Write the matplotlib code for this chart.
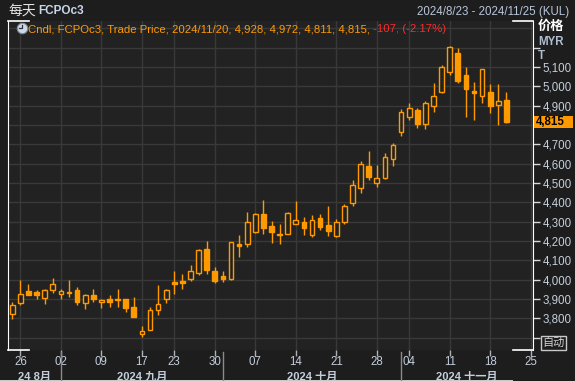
import matplotlib
matplotlib.use('Agg')
import matplotlib.pyplot as plt
from matplotlib.transforms import blended_transform_factory
from matplotlib.patches import Rectangle

plt.rcParams['font.family'] = ['Liberation Sans', 'Noto Sans CJK SC']

# trading days shown (Bursa Malaysia, FCPO 3rd month)
dates = [
    '2024-08-23', '2024-08-26', '2024-08-27', '2024-08-28', '2024-08-29', '2024-08-30',
    '2024-09-02', '2024-09-03', '2024-09-04', '2024-09-05', '2024-09-06',
    '2024-09-09', '2024-09-10', '2024-09-11', '2024-09-12', '2024-09-13',
    '2024-09-17', '2024-09-18', '2024-09-19', '2024-09-20',
    '2024-09-23', '2024-09-24', '2024-09-25', '2024-09-26', '2024-09-27',
    '2024-09-30', '2024-10-01', '2024-10-02', '2024-10-03', '2024-10-04',
    '2024-10-07', '2024-10-08', '2024-10-09', '2024-10-10', '2024-10-11',
    '2024-10-14', '2024-10-15', '2024-10-16', '2024-10-17', '2024-10-18',
    '2024-10-21', '2024-10-22', '2024-10-23', '2024-10-24', '2024-10-25',
    '2024-10-28', '2024-10-29', '2024-10-30', '2024-11-01',
    '2024-11-04', '2024-11-05', '2024-11-06', '2024-11-07', '2024-11-08',
    '2024-11-11', '2024-11-12', '2024-11-13', '2024-11-14', '2024-11-15',
    '2024-11-18', '2024-11-19', '2024-11-20',
]
future_dates = ['2024-11-21', '2024-11-22', '2024-11-25']

opens = [3823, 3880, 3939, 3934, 3904, 3946, 3927, 3935, 3944, 3880,
         3918, 3885, 3901, 3902, 3901, 3861, 3717, 3740, 3844, 3901,
         3986, 3991, 4003, 4036, 4159, 4043, 4019, 4002, 4184, 4186,
         4247, 4338, 4276, 4234, 4238, 4290, 4300, 4233, 4317, 4281,
         4228, 4300, 4398, 4476, 4590, 4502, 4526, 4626, 4766, 4843,
         4879, 4807, 4900, 4971, 5076, 5174, 5057, 4974, 4952, 4969,
         4905, 4928]
highs = [3883, 3996, 3980, 3944, 3954, 4006, 3949, 3996, 3960, 3928,
         3954, 3901, 3918, 3954, 3901, 3908, 3762, 3861, 3970, 3954,
         4043, 4029, 4074, 4157, 4200, 4064, 4043, 4197, 4231, 4348,
         4347, 4410, 4302, 4288, 4350, 4405, 4322, 4333, 4338, 4379,
         4312, 4390, 4514, 4612, 4664, 4591, 4657, 4705, 4881, 4912,
         4890, 4926, 5016, 5110, 5209, 5197, 5098, 5021, 5091, 5010,
         5010, 4972]
lows = [3797, 3868, 3918, 3902, 3873, 3930, 3899, 3910, 3868, 3847,
        3883, 3852, 3856, 3856, 3831, 3806, 3702, 3740, 3816, 3878,
        3925, 3951, 3991, 4026, 4028, 3984, 3990, 4000, 4119, 4169,
        4241, 4234, 4190, 4184, 4236, 4290, 4231, 4221, 4255, 4226,
        4222, 4288, 4379, 4448, 4517, 4479, 4521, 4588, 4743, 4826,
        4784, 4779, 4867, 4966, 5059, 5017, 4841, 4826, 4914, 4862,
        4800, 4811]
closes = [3870, 3928, 3923, 3920, 3944, 3980, 3939, 3933, 3883, 3918,
          3899, 3896, 3883, 3896, 3852, 3809, 3735, 3844, 3875, 3947,
          3977, 3982, 4044, 4153, 4048, 3995, 4005, 4197, 4176, 4300,
          4341, 4267, 4247, 4232, 4347, 4310, 4267, 4310, 4272, 4252,
          4300, 4383, 4488, 4600, 4531, 4528, 4636, 4698, 4869, 4890,
          4807, 4916, 4952, 5102, 5202, 5028, 4986, 4966, 5091, 4900,
          4926, 4815]

tick_days = ['2024-08-26', '2024-09-02', '2024-09-09', '2024-09-17', '2024-09-23',
             '2024-09-30', '2024-10-07', '2024-10-14', '2024-10-21', '2024-10-28',
             '2024-11-04', '2024-11-11', '2024-11-18', '2024-11-25']
month_starts = ['2024-09-02', '2024-10-01', '2024-11-01']
month_names = ['24 8月', '2024 九月', '2024 十月', '2024 十一月']
price_ticks = list(range(3700, 5201, 100))
hidden_ticks = (3700, 4800, 5200)  # covered by button / price tag / title
last_price = 4815

ORANGE = '#ff9900'
RED = '#ff2a2a'
FIG_BG = '#1d1d1d'
AX_BG = '#222222'
GRID = '#393939'
LABEL = '#c4cedb'

W, H = 575, 381
fig = plt.figure(figsize=(W / 100, H / 100), dpi=100, facecolor=FIG_BG)
ax = fig.add_axes([8 / W, 31 / H, 525 / W, 329 / H], facecolor=AX_BG)

axis_days = dates + future_dates
pos = {d: i for i, d in enumerate(axis_days)}
x = [pos[d] for d in dates]

# candles: hollow = close above open
bottoms = [min(o, c) for o, c in zip(opens, closes)]
heights = [max(abs(c - o), 3) for o, c in zip(opens, closes)]
faces = [AX_BG if c > o else ORANGE for o, c in zip(opens, closes)]
ax.vlines(x, lows, highs, color=ORANGE, lw=1.0, zorder=2)
ax.bar(x, heights, bottom=bottoms, width=0.58, color=faces,
       edgecolor=ORANGE, linewidth=1.0, zorder=3)

ax.set_xlim(-0.53, 64.28)
ax.set_ylim(3636, 5338)

# axes / grid
tick_pos = [pos[d] for d in tick_days]
ax.set_xticks(tick_pos)
ax.set_xticklabels([d[-2:] for d in tick_days])
ax.set_yticks(price_ticks)
ax.set_yticklabels(['' if p in hidden_ticks else f'{p:,}' for p in price_ticks])
for lab, p in zip(ax.get_yticklabels(), price_ticks):
    if p % 1000 == 0:
        lab.set_fontweight('bold')
ax.axhline(5300, color=GRID, lw=1, zorder=0)
ax.yaxis.tick_right()
ax.grid(True, color=GRID, lw=1, zorder=0)
ax.tick_params(axis='y', colors='#d8d8d8', labelcolor=LABEL, labelsize=8.3,
               length=5, width=1, pad=2)
ax.tick_params(axis='x', colors='#b0b0b0', labelcolor=LABEL, labelsize=8.3,
               length=4, width=1, pad=0.5)
for side in ('left', 'right'):
    ax.spines[side].set_color('white')
for side in ('top', 'bottom'):
    ax.spines[side].set_visible(False)

# white corner marks on top / bottom edge
for y0 in (0, 1):
    ax.plot([0, 0.04], [y0, y0], color='white', lw=1.2, transform=ax.transAxes, clip_on=False)
    ax.plot([0.962, 1], [y0, y0], color='white', lw=1.2, transform=ax.transAxes, clip_on=False)

# month band under the day labels
bt = blended_transform_factory(ax.transData, ax.transAxes)
for d in month_starts:
    ax.plot([pos[d], pos[d]], [-0.006, -0.1], color='#8a8a8a', lw=1,
            transform=bt, clip_on=False)
edges = [ax.get_xlim()[0]] + [pos[d] for d in month_starts] + [ax.get_xlim()[1]]
for name, a, b in zip(month_names, edges[:-1], edges[1:]):
    ax.text((a + b) / 2, -0.081, name, transform=bt, ha='center', va='center',
            color=LABEL, fontsize=8, fontweight='bold')
fig.add_artist(Rectangle((0, 0), 513 / W, 1.5 / H, transform=fig.transFigure,
                         facecolor='#c8c8c8', edgecolor='none', zorder=-1))

# header
fig.text(8 / W, 1 - 11 / H, '每天', color='#e4e4e4', fontsize=10, va='center')
fig.text(38 / W, 1 - 11 / H, 'FCPOc3', color='#c8d6ea', fontsize=8.5,
         fontweight='bold', va='center')
fig.text(569 / W, 1 - 12 / H, '2024/8/23 - 2024/11/25 (KUL)', color='#b8c6da',
         fontsize=8.3, ha='right', va='center')

# legend line with clock icon
ax.plot([21.5 / W], [1 - 28 / H], 'o', ms=7.5, mfc='#ccd8ea', mec='#7a8aa0',
        mew=0.8, transform=fig.transFigure, clip_on=False)
ax.plot([21.5 / W, 21.5 / W, 18.5 / W], [1 - 24.5 / H, 1 - 28 / H, 1 - 28 / H],
        color='#303030', lw=0.9, transform=fig.transFigure, clip_on=False)
t1 = fig.text(28 / W, 1 - 29 / H,
              'Cndl, FCPOc3, Trade Price, 2024/11/20, 4,928, 4,972, 4,811, 4,815,',
              color=ORANGE, fontsize=8.2, va='center')
ax.annotate(' -107, (-2.17%)', xy=(1, 0), xycoords=t1, ha='left', va='bottom',
            color=RED, fontsize=8.2, annotation_clip=False)

# right axis title
fig.text(538 / W, 1 - 27 / H, '价格', color='white', fontsize=9.5, fontweight='bold', va='center')
fig.text(538 / W, 1 - 42 / H, 'MYR', color='#aebdd0', fontsize=8.3, fontweight='bold', va='center')
fig.text(538 / W, 1 - 56 / H, 'T', color='#aebdd0', fontsize=8.3, fontweight='bold', va='center')

# last price tag
yt = blended_transform_factory(fig.transFigure, ax.transData)
ax.add_patch(Rectangle((534 / W, last_price - 30), 39 / W, 60, transform=yt,
                       facecolor=ORANGE, edgecolor='none', clip_on=False, zorder=5))
ax.text(535.5 / W, last_price, f'{last_price:,}', transform=yt, color='black',
        fontsize=8.3, fontweight='bold', va='center', zorder=6, clip_on=False)

# auto-scale button
fig.text(553.5 / W, 1 - 343 / H, '自动', color='#d0d0d0', fontsize=8, ha='center',
         va='center', bbox=dict(boxstyle='square,pad=0.12', facecolor=FIG_BG,
                                edgecolor='#c8c8c8', lw=1))

fig.savefig('out.png', dpi=100, facecolor=FIG_BG)
